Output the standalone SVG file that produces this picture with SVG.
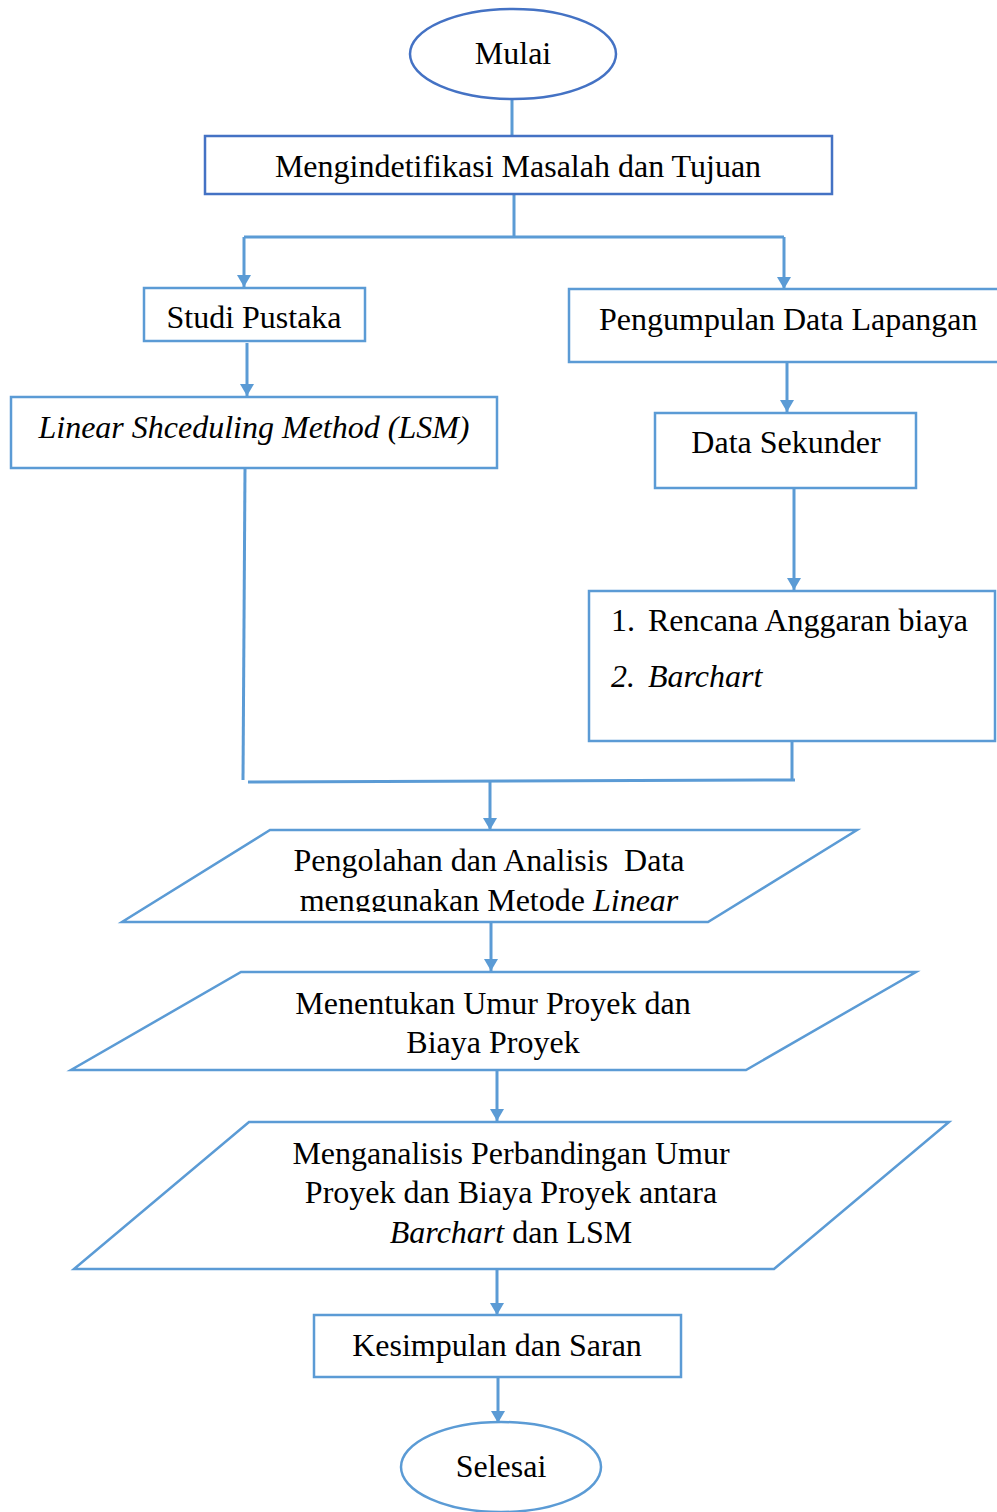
<svg xmlns="http://www.w3.org/2000/svg" width="997" height="1512" viewBox="0 0 997 1512">
<style>
.dk{fill:#fff;stroke:#4472C4;stroke-width:2.5}
.lt{fill:#fff;stroke:#5B9BD5;stroke-width:2.5}
.c{fill:none;stroke:#5B9BD5;stroke-width:3}
text{font-family:"Liberation Serif","Times New Roman",serif;font-size:32px;fill:#000}
.m{text-anchor:middle}
.i{font-style:italic}
</style>
<defs>
<marker id="ah" markerWidth="12" markerHeight="14" refX="12" refY="6" orient="auto" markerUnits="userSpaceOnUse" viewBox="0 0 12 12" preserveAspectRatio="none">
<path d="M0,0 L12,6 L0,12 Z" fill="#5B9BD5"/>
</marker>
<clipPath id="cp1"><rect x="0" y="830" width="997" height="82"/></clipPath>
</defs>
<rect width="997" height="1512" fill="#fff"/>
<g id="connectors">
<path class="c" d="M512,99 V136"/>
<path class="c" d="M514,194 V237"/>
<path class="c" d="M244,237 H784"/>
<path class="c" d="M244,237 V287" marker-end="url(#ah)"/>
<path class="c" d="M784,237 V289" marker-end="url(#ah)"/>
<path class="c" d="M247,343 V396" marker-end="url(#ah)"/>
<path class="c" d="M787,362 V412" marker-end="url(#ah)"/>
<path class="c" d="M794,488 V590" marker-end="url(#ah)"/>
<path class="c" d="M245,468 L243,780"/>
<path class="c" d="M792,741 V781"/>
<path class="c" d="M248,782 L795,780"/>
<path class="c" d="M490,781 V830" marker-end="url(#ah)"/>
<path class="c" d="M491,922 V971" marker-end="url(#ah)"/>
<path class="c" d="M497,1070 V1121" marker-end="url(#ah)"/>
<path class="c" d="M497,1269 V1315" marker-end="url(#ah)"/>
<path class="c" d="M498,1377 V1423" marker-end="url(#ah)"/>
</g>
<g id="mulai">
<ellipse class="dk" cx="513" cy="54" rx="103" ry="45"/>
<text class="m" x="513" y="64">Mulai</text>
</g>
<g id="identifikasi">
<rect class="dk" x="205" y="136" width="627" height="58"/>
<text class="m" x="518" y="177">Mengindetifikasi Masalah dan Tujuan</text>
</g>
<g id="studi">
<rect class="lt" x="144" y="288" width="221" height="53"/>
<text class="m" x="254" y="328">Studi Pustaka</text>
</g>
<g id="lsm">
<rect class="lt" x="11" y="397" width="486" height="71"/>
<text class="m i" x="254" y="438">Linear Shceduling Method (LSM)</text>
</g>
<g id="pengumpulan">
<rect class="lt" x="569" y="289" width="440" height="73"/>
<text x="599" y="330">Pengumpulan Data Lapangan</text>
</g>
<g id="sekunder">
<rect class="lt" x="655" y="413" width="261" height="75"/>
<text class="m" x="786" y="453">Data Sekunder</text>
</g>
<g id="list">
<rect class="lt" x="589" y="591" width="406" height="150"/>
<text x="611" y="631">1.</text>
<text x="648" y="631">Rencana Anggaran biaya</text>
<text class="i" x="611" y="687">2.</text>
<text class="i" x="648" y="687">Barchart</text>
</g>
<g id="pengolahan">
<polygon class="lt" points="270,830 857,830 708,922 122,922"/>
<text class="m" x="489" y="871" xml:space="preserve">Pengolahan dan Analisis  Data</text>
<text class="m" x="489" y="911" clip-path="url(#cp1)">menggunakan Metode <tspan class="i">Linear</tspan></text>
</g>
<g id="menentukan">
<polygon class="lt" points="241,972 916,972 746,1070 71,1070"/>
<text class="m" x="493" y="1014">Menentukan Umur Proyek dan</text>
<text class="m" x="493" y="1053">Biaya Proyek</text>
</g>
<g id="menganalisis">
<polygon class="lt" points="249,1122 949,1122 774,1269 74,1269"/>
<text class="m" x="511" y="1164">Menganalisis Perbandingan Umur</text>
<text class="m" x="511" y="1203">Proyek dan Biaya Proyek antara</text>
<text class="m" x="511" y="1243"><tspan class="i">Barchart</tspan> dan LSM</text>
</g>
<g id="kesimpulan">
<rect class="lt" x="314" y="1315" width="367" height="62"/>
<text class="m" x="497" y="1356">Kesimpulan dan Saran</text>
</g>
<g id="selesai">
<ellipse class="lt" cx="501" cy="1467" rx="100" ry="45"/>
<text class="m" x="501" y="1477">Selesai</text>
</g>
</svg>
